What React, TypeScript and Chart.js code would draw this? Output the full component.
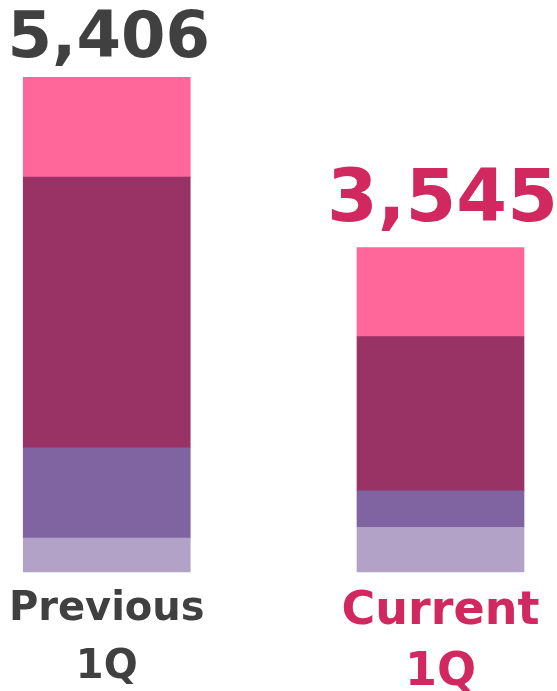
import React, { useEffect, useRef } from "react";
import { Chart, registerables } from "chart.js";

Chart.register(...registerables);

// ---- data ----
const categories = [
  ["Previous", "1Q"],
  ["Current", "1Q"],
];
const seriesNames = ["Segment D", "Segment C", "Segment B", "Segment A"];
const segmentDValues = [372, 489];
const segmentCValues = [984, 397];
const segmentBValues = [2959, 1687];
const segmentAValues = [1091, 972];
const axisMax = 6000;

// ---- styles ----
const seriesColors = ["#B3A2C7", "#8064A2", "#993366", "#FF6699"];
const categoryColors = ["#404040", "#D0285F"];
const totalFontSizes = [64, 73];
const totalGaps = [20, 27];
const labelFontSizes = [40, 46];
const labelLineHeights = [1.45, 1.33];
const FONT = '"DejaVu Sans", Verdana, sans-serif';

const totalsPlugin = {
  id: "stackTotals",
  afterDatasetsDraw(chart: any) {
    const { ctx } = chart;
    const yScale = chart.scales.y;
    const meta = chart.getDatasetMeta(chart.data.datasets.length - 1);
    const n = chart.data.labels.length;
    for (let i = 0; i < n; i++) {
      const total = chart.data.datasets.reduce(
        (s: number, d: any) => s + (d.data[i] as number),
        0
      );
      const x = meta.data[i].x;
      const y = yScale.getPixelForValue(total);
      const size = totalFontSizes[i];
      ctx.save();
      ctx.font = `bold ${size}px ${FONT}`;
      ctx.fillStyle = categoryColors[i];
      ctx.textAlign = "center";
      ctx.textBaseline = "alphabetic";
      ctx.fillText(total.toLocaleString("en-US"), x + 2, y - totalGaps[i]);
      ctx.restore();
    }
  },
};

export default function App() {
  const canvasRef = useRef<HTMLCanvasElement | null>(null);

  useEffect(() => {
    if (!canvasRef.current) return;
    const seriesData = [segmentDValues, segmentCValues, segmentBValues, segmentAValues];
    const chart = new Chart(canvasRef.current, {
      type: "bar",
      data: {
        labels: categories,
        datasets: seriesData.map((d, i) => ({
          label: seriesNames[i],
          data: d,
          backgroundColor: seriesColors[i],
          borderWidth: 0,
          barThickness: 167,
          clip: false as any,
        })),
      },
      options: {
        animation: false,
        responsive: true,
        maintainAspectRatio: false,
        layout: { padding: { left: 106.75, right: 116.5, top: 23, bottom: 0 } },
        plugins: {
          legend: { display: false },
          tooltip: { enabled: false },
        },
        scales: {
          x: {
            stacked: true,
            offset: false,
            grid: { display: false },
            border: { display: false },
            ticks: {
              autoSkip: false,
              maxRotation: 0,
              minRotation: 0,
              padding: 1,
              color: (c: any) => categoryColors[c.index],
              font: (c: any) => ({
                family: FONT,
                weight: "bold",
                size: labelFontSizes[c.index],
                lineHeight: labelLineHeights[c.index],
              }),
            },
            afterFit: (s: any) => {
              s.height = 119;
            },
          },
          y: {
            stacked: true,
            display: false,
            min: 0,
            max: axisMax,
          },
        },
      },
      plugins: [totalsPlugin],
    } as any);
    return () => chart.destroy();
  }, []);

  return (
    <div style={{ position: "absolute", left: 0, top: 0, width: 557, height: 691, background: "#fff" }}>
      <canvas ref={canvasRef} />
    </div>
  );
}
